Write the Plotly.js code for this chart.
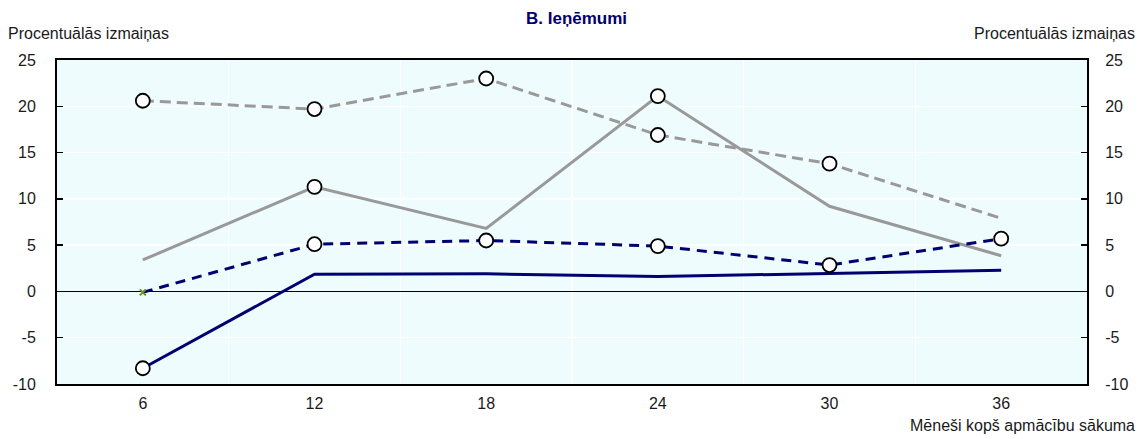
<!DOCTYPE html>
<html>
<head>
<meta charset="utf-8">
<script src="https://cdn.plot.ly/plotly-3.0.1.min.js"></script>
<style>html,body{margin:0;padding:0;background:#fff;}#chart{width:1145px;height:439px;}</style>
</head>
<body>
<div id="chart"></div>
<script>
const months = [6, 12, 18, 24, 30, 36];
const xTickLabels = ['6', '12', '18', '24', '30', '36'];
const yTickVals = [-10, -5, 0, 5, 10, 15, 20, 25];
const yTickLabels = ['-10', '-5', '0', '5', '10', '15', '20', '25'];

// Series values (percentage change)
const graySolid  = [3.4, 11.3, 6.8, 21.1, 9.2, 3.85];
const grayDashed = [20.6, 19.7, 23.0, 16.9, 13.8, 7.9];
const navySolid  = [-8.3, 1.85, 1.9, 1.6, 1.95, 2.3];
const navyDashed = [-0.1, 5.1, 5.5, 4.9, 2.85, 5.7];

// Significance flags (open circle markers)
const graySolidSig  = [false, true, false, true, false, false];
const grayDashedSig = [true, true, true, true, true, false];
const navySolidSig  = [true, false, false, false, false, false];
const navyDashedSig = [false, true, true, true, true, true];

const titleText = 'B. Ieņēmumi';
const yTitleText = 'Procentuālās izmaiņas';
const xTitleText = 'Mēneši kopš apmācību sākuma';

const NAVY = '#000070';
const GRAY = '#999999';
const FONT = 'Liberation Sans, Arial, sans-serif';
const FS = 16;

function lineTrace(y, color, dash) {
  return {x: months, y: y, type: 'scatter', mode: 'lines',
    line: {color: color, width: 3, dash: dash}, hoverinfo: 'skip', showlegend: false};
}
function markerTrace(y, sig) {
  const xs = [], ys = [];
  months.forEach((m, i) => { if (sig[i]) { xs.push(m); ys.push(y[i]); } });
  return {x: xs, y: ys, type: 'scatter', mode: 'markers',
    marker: {symbol: 'circle', size: 14, color: '#ffffff', line: {color: '#000000', width: 1.8}},
    hoverinfo: 'skip', showlegend: false, cliponaxis: false};
}

const data = [
  lineTrace(graySolid, GRAY, 'solid'),
  lineTrace(grayDashed, GRAY, '11px,6px'),
  lineTrace(navySolid, NAVY, 'solid'),
  lineTrace(navyDashed, NAVY, '10px,7px'),
  {x: [months[0]], y: [navyDashed[0]], type: 'scatter', mode: 'markers',
   marker: {symbol: 'x-thin', size: 6, line: {color: '#6b8e23', width: 2}},
   hoverinfo: 'skip', showlegend: false},
  markerTrace(graySolid, graySolidSig),
  markerTrace(grayDashed, grayDashedSig),
  markerTrace(navySolid, navySolidSig),
  markerTrace(navyDashed, navyDashedSig),
  {x: [null], y: [null], yaxis: 'y2', type: 'scatter', mode: 'lines', showlegend: false, hoverinfo: 'skip'}
];

const tickFont = {family: FONT, size: FS, color: '#1a1a1a'};

const layout = {
  width: 1145, height: 439,
  margin: {l: 57, r: 58, t: 60, b: 55},
  paper_bgcolor: '#ffffff',
  plot_bgcolor: '#effcfe',
  font: {family: FONT, size: FS, color: '#1a1a1a'},
  showlegend: false,
  xaxis: {
    range: [3, 39], tickvals: months, ticktext: xTickLabels,
    showgrid: false, zeroline: false,
    showline: true, linecolor: '#000000', linewidth: 2, mirror: true,
    ticks: '', ticklabelstandoff: 4,
    minor: {tick0: 3, dtick: 6, showgrid: true, gridcolor: '#ffffff', gridwidth: 1.5, ticks: ''},
    tickfont: tickFont
  },
  yaxis: {
    range: [-10, 25], tickvals: yTickVals, ticktext: yTickLabels,
    showgrid: true, gridcolor: '#ffffff', gridwidth: 1.5,
    zeroline: true, zerolinecolor: '#000000', zerolinewidth: 1.8,
    showline: true, linecolor: '#000000', linewidth: 2,
    ticks: 'inside', ticklen: 6, tickcolor: '#000000', tickwidth: 1.5,
    ticklabelstandoff: 16,
    tickfont: tickFont
  },
  yaxis2: {
    overlaying: 'y', side: 'right', range: [-10, 25], tickvals: yTickVals, ticktext: yTickLabels,
    showgrid: false, zeroline: false,
    showline: true, linecolor: '#000000', linewidth: 2,
    ticks: 'inside', ticklen: 6, tickcolor: '#000000', tickwidth: 1.5,
    ticklabelstandoff: 13,
    tickfont: tickFont
  },
  annotations: [
    {text: '<b>' + titleText + '</b>', xref: 'paper', yref: 'paper', x: 0.504, y: 1, yshift: 42,
     xanchor: 'center', yanchor: 'middle', showarrow: false,
     font: {family: FONT, size: 17, color: NAVY}},
    {text: yTitleText, xref: 'paper', yref: 'paper', x: 0, xshift: -51, y: 1, yshift: 27,
     xanchor: 'left', yanchor: 'middle', showarrow: false,
     font: {family: FONT, size: FS, color: '#1a1a1a'}},
    {text: yTitleText, xref: 'paper', yref: 'paper', x: 1, xshift: 50, y: 1, yshift: 27,
     xanchor: 'right', yanchor: 'middle', showarrow: false,
     font: {family: FONT, size: FS, color: '#1a1a1a'}},
    {text: xTitleText, xref: 'paper', yref: 'paper', x: 1, xshift: 50, y: 0, yshift: -41,
     xanchor: 'right', yanchor: 'middle', showarrow: false,
     font: {family: FONT, size: FS, color: '#1a1a1a'}}
  ]
};

Plotly.newPlot('chart', data, layout, {displayModeBar: false, staticPlot: true});
</script>
</body>
</html>
